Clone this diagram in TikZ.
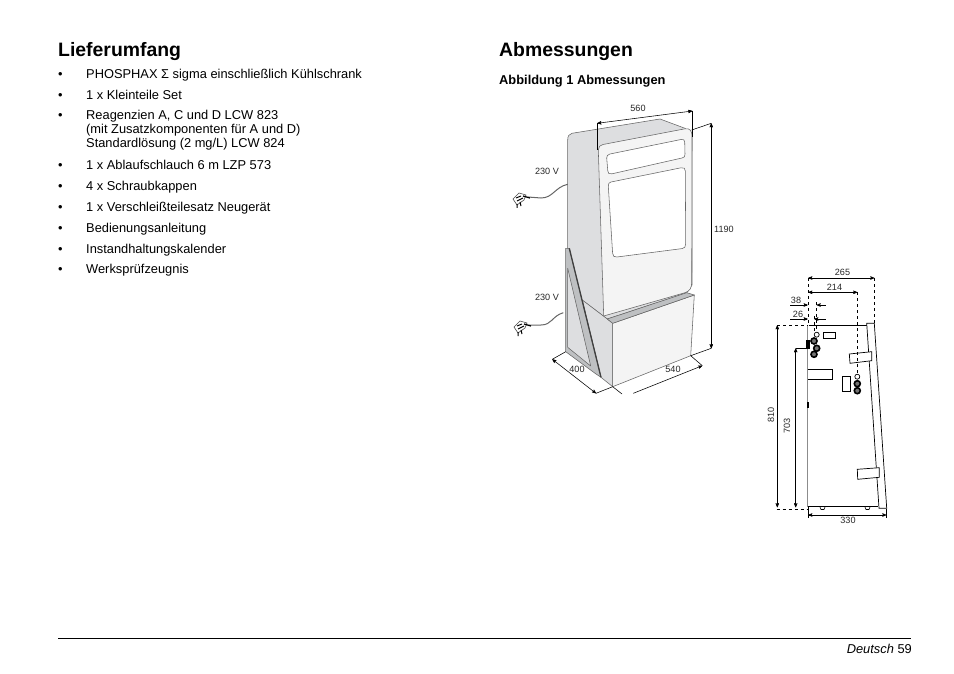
\documentclass[tikz,border=0pt]{standalone}
\usepackage{fontspec}
\setmainfont{Liberation Sans}
\usetikzlibrary{arrows}
\definecolor{sidegrey}{RGB}{221,222,224}
\definecolor{frontgrey}{RGB}{244,244,244}
\definecolor{topgrey}{RGB}{190,192,194}
\tikzstyle{heading}=[anchor=base west,inner sep=0pt,font=\fontsize{19.4}{21}\selectfont\bfseries]
\tikzstyle{subhead}=[anchor=base west,inner sep=0pt,font=\fontsize{12.85}{14}\selectfont\bfseries]
\tikzstyle{entry}=[anchor=base west,inner sep=0pt,font=\fontsize{12.85}{14}\selectfont]
\tikzstyle{dimtext}=[inner sep=0pt,font=\fontsize{9.1}{11}\selectfont,text=black!85]
\tikzstyle{body}=[draw=black!60,line width=0.55pt,line join=round]
\tikzstyle{detail}=[draw=black,line width=0.7pt,fill=white]
\tikzstyle{dim}=[line width=0.55pt,>=stealth']
\tikzstyle{jack}=[circle,draw=black,line width=1.6pt,fill=black!55,minimum size=6pt,inner sep=0pt]
\tikzstyle{jackopen}=[circle,draw=black,line width=0.7pt,fill=white,minimum size=5pt,inner sep=0pt]
\tikzstyle{cable}=[draw=black!60,line width=1pt]
\newcommand{\plugat}[1]{%
  \begin{scope}[shift={#1}]
    \draw [black!70,fill=white,line width=0.6pt] (-7,0) -- (-1,-6) -- (6,-4) -- (4,1) -- (-3,6) -- cycle;
    \draw [black,line width=1pt] (-4,-1) -- (1,-3) (-3,2) -- (3,-1) (-3,5) -- (-3,9) (0,3) -- (1,7);
    \draw [black,line width=1.3pt] (3,-3) -- (10,-1);
  \end{scope}}
\begin{document}
\begin{tikzpicture}[x=1pt,y=-1pt]
  \useasboundingbox (0,0) rectangle (954,674);

  % text on the left
  \node at (58,57) [heading] (lieferumfang) {Lieferumfang};
  \foreach \name/\ypos/\txt in {a/78.6/{PHOSPHAX Σ sigma einschließlich Kühlschrank},
      b/99.6/{1 x Kleinteile Set},
      c/119.6/{Reagenzien A, C und D LCW 823},
      d/169.6/{1 x Ablaufschlauch 6 m LZP 573},
      e/190.4/{4 x Schraubkappen},
      f/211.6/{1 x Verschleißteilesatz Neugerät},
      g/232.4/{Bedienungsanleitung},
      h/253.2/{Instandhaltungskalender},
      i/273.4/{Werksprüfzeugnis}} {
    \node at (58,\ypos) [entry] (bullet\name) {•};
    \node at (86,\ypos) [entry] (item\name) {\txt};
  }
  \node at (86,133.6) [entry] (itemc2) {(mit Zusatzkomponenten für A und D)};
  \node at (86,147.6) [entry] (itemc3) {Standardlösung (2 mg/L) LCW 824};

  \node at (499,57) [heading] (abmessungen) {Abmessungen};
  \node at (499,84.4) [subhead] (abbildung) {Abbildung 1 Abmessungen};

  % cabinet
  \draw [body,fill=sidegrey] (567.7,140) .. controls (567.7,136) and (569,134) .. (572,133.3) -- (660,119) -- (685,128.3) -- (692,136) -- (692,285) -- (686.7,293) -- (607.3,319) -- (582,300) -- (567.7,290) -- cycle;
  \draw [body,fill=frontgrey] (598.3,150) .. controls (598.3,147) and (600,145) .. (603,144.5) -- (685,128.8) .. controls (690,128) and (692,131) .. (692,136) -- (691.7,282) .. controls (691.7,288) and (690,291) .. (685,292.7) -- (603.7,316) -- cycle;
  \draw [body,fill=white] (606.7,158) .. controls (606.7,156) and (607.5,154.5) .. (610,154) -- (681,139.5) .. controls (683.5,139) and (684.7,140) .. (684.7,142) -- (685,154) .. controls (685,156.5) and (684.5,157.5) .. (682,158) -- (612,173.8) .. controls (609,174.4) and (608,173.5) .. (607.8,171) -- cycle;
  \draw [body,fill=white] (608.3,186) .. controls (608.3,183.5) and (609,182.5) .. (611,182) -- (681,167.8) .. controls (684,167.2) and (685.3,168.5) .. (685.3,171) -- (685.7,244) .. controls (685.7,247) and (684.5,248) .. (682,248.6) -- (617,257) .. controls (614,257.5) and (612.8,256) .. (612.6,253) -- cycle;

  % stand
  \draw [body,fill=sidegrey] (582.3,300) -- (607.3,319) -- (612.7,323.3) -- (612.7,386.7) -- (601,377.3) -- cycle;
  \draw [body,fill=frontgrey] (612.7,323.3) -- (694.3,295) -- (690.7,355.7) -- (612.7,386.7) -- cycle;
  \draw [body,fill=topgrey] (607.3,319) -- (686.7,292.7) -- (694.3,295) -- (612.7,323.3) -- cycle;
  \draw [body,fill=topgrey] (565.7,248.3) -- (569.3,248.3) -- (601,377.3) -- (596,374) -- (565.7,351.7) -- cycle;
  \draw [body,fill=sidegrey] (567.7,268.3) -- (590.7,366) -- (567.7,347.3) -- cycle;
  \draw [black!75,line width=1.3pt] (569.3,248.3) -- (601,377.3);

  % cables and plugs
  \node at (547,171) [dimtext] (volta) {230 V};
  \node at (547,297.5) [dimtext] (voltb) {230 V};
  \coordinate (cablea) at (567.7,184.3);
  \coordinate (cableb) at (563.3,312.7);
  \coordinate (pluga) at (528,197);
  \coordinate (plugb) at (529,325);
  \draw [cable] (cablea) .. controls (555,187) and (553,198) .. (541,198) -- (pluga);
  \draw [cable] (cableb) .. controls (552,316) and (552,325) .. (541,325) -- (plugb);
  \plugat{(520,199)}
  \plugat{(521,327)}

  % dimensions of the cabinet
  \coordinate (wl) at (597.3,123.3);
  \coordinate (wr) at (692.3,111);
  \coordinate (hu) at (711.3,123.3);
  \coordinate (hb) at (711.3,348.3);
  \coordinate (dl) at (552.3,359.3);
  \coordinate (dr) at (596,393.3);
  \coordinate (fl) at (633.3,393.3);
  \coordinate (fr) at (702.3,365.7);
  \draw [black,line width=0.8pt] (wl) -- (597.3,150);
  \draw [black,line width=0.8pt] (wr) -- (692.3,136.7);
  \draw [dim,<->] (wl) -- (wr);
  \draw [dim,<->] (hu) -- (hb);
  \draw [dim,<->] (dl) -- (dr);
  \draw [dim,->] (fl) -- (fr);
  \draw [dim] (691.7,130) -- (hu);
  \draw [dim] (690.7,355.7) -- (hb);
  \draw [dim] (690.7,355.7) -- (fr);
  \draw [dim] (565.7,351.7) -- (dl);
  \draw [dim] (612.7,386.7) -- (dr);
  \draw [dim] (612.7,386.7) -- (622,394);
  \node at (638,108.5) [dimtext] (w560) {560};
  \node at (724,229.5) [dimtext] (h1190) {1190};
  \node at (577,369.5) [dimtext] (d400) {400};
  \node at (673,369.5) [dimtext] (f540) {540};

  % side view
  \draw [black!45,line width=1.4pt] (807.7,325.3) -- (807.7,506.7);
  \draw [black,line width=0.7pt] (808.5,325.3) -- (866.7,325.3);
  \draw [black,line width=0.7pt] (807.7,506.7) -- (878.3,506.7);
  \draw [black,line width=0.7pt,fill=white] (866.7,323.3) -- (874.3,323.3) -- (886.7,508.3) -- (879,508.3) -- cycle;
  \draw [black,line width=0.6pt] (820,507) -- (821,509.5) -- (824,509.5) -- (825,507);
  \draw [black,line width=0.6pt] (865,507) -- (866,509.5) -- (869,509.5) -- (870,507);
  \draw [detail] (849.3,354) -- (871.7,351.7) -- (871.7,360.7) -- (850,363.3) -- cycle;
  \draw [detail] (857.3,469.3) -- (879.3,467.7) -- (879.3,477.3) -- (857.7,479.3) -- cycle;
  \draw [detail] (823.3,332.3) rectangle (835.7,338.7);
  \draw [detail] (842.3,376.7) rectangle (850.7,391.7);
  \draw [detail] (807.7,369) -- (832.7,369) -- (832.7,379.3) -- (807.7,379.3);
  \draw [black,fill=black] (806,340) rectangle (809,348.3);
  \draw [black,fill=black] (806.7,401.7) rectangle (807.7,407.3);
  \node at (816.7,334.7) [jackopen] (jacka) {};
  \node at (814,341) [jack] (jackb) {};
  \node at (816.7,348.3) [jack] (jackc) {};
  \node at (814,354.3) [jack] (jackd) {};
  \node at (857.3,376.7) [jackopen] (jacke) {};
  \node at (857.3,383.7) [jack] (jackf) {};
  \node at (857.3,390.7) [jack] (jackg) {};

  % dimensions of the side view
  \coordinate (sl) at (808.3,278);
  \coordinate (sr) at (874.3,278);
  \coordinate (tl) at (808.3,292.3);
  \coordinate (tr) at (857.3,292.3);
  \coordinate (ha) at (777.3,325.3);
  \coordinate (hc) at (777.3,507.3);
  \coordinate (hd) at (795.7,348.3);
  \coordinate (he) at (795.7,507.3);
  \coordinate (bl) at (808.3,515);
  \coordinate (br) at (886.3,515);
  \draw [dim,<->] (sl) -- (sr);
  \draw [dim,<->] (tl) -- (tr);
  \draw [dim,dashed] (sl) -- (808.3,325.3);
  \draw [dim,dashed] (sr) -- (874.3,323.3);
  \draw [dim,dashed] (tr) -- (857.3,374);
  \draw [dim,->] (790,305) -- (807.7,305);
  \draw [dim,->] (790,319) -- (807.7,319);
  \draw [dim,->] (825.7,305) -- (816.7,305);
  \draw [dim,->] (825.7,319) -- (814.3,319);
  \draw [dim,dashed] (816.7,302) -- (816.7,331);
  \draw [dim,dashed] (814.3,316) -- (814.3,331);
  \draw [dim,dashed] (ha) -- (807.7,325.3);
  \draw [dim,dashed] (776.7,509) -- (807.7,509);
  \draw [dim,<->] (ha) -- (hc);
  \draw [dim,<->] (hd) -- (he);
  \draw [dim] (hd) -- (806,348.3);
  \draw [dim,<->] (bl) -- (br);
  \draw [dim] (808.3,507) -- (808.3,518);
  \draw [dim] (886.3,509) -- (886.3,518);
  \node at (842.5,272) [dimtext] (s265) {265};
  \node at (834.5,287) [dimtext] (s214) {214};
  \node at (796,300) [dimtext] (s38) {38};
  \node at (798,314) [dimtext] (s26) {26};
  \node at (771,415) [dimtext,rotate=90] (s810) {810};
  \node at (787,426) [dimtext,rotate=90] (s703) {703};
  \node at (848,520.5) [dimtext] (s330) {330};

  % footer
  \coordinate (footl) at (58,638);
  \coordinate (footr) at (911,638);
  \draw [black,line width=0.7pt] (footl) -- (footr);
  \node at (912,653) [entry,anchor=base east] (page) {\textit{Deutsch} 59};
\end{tikzpicture}
\end{document}
